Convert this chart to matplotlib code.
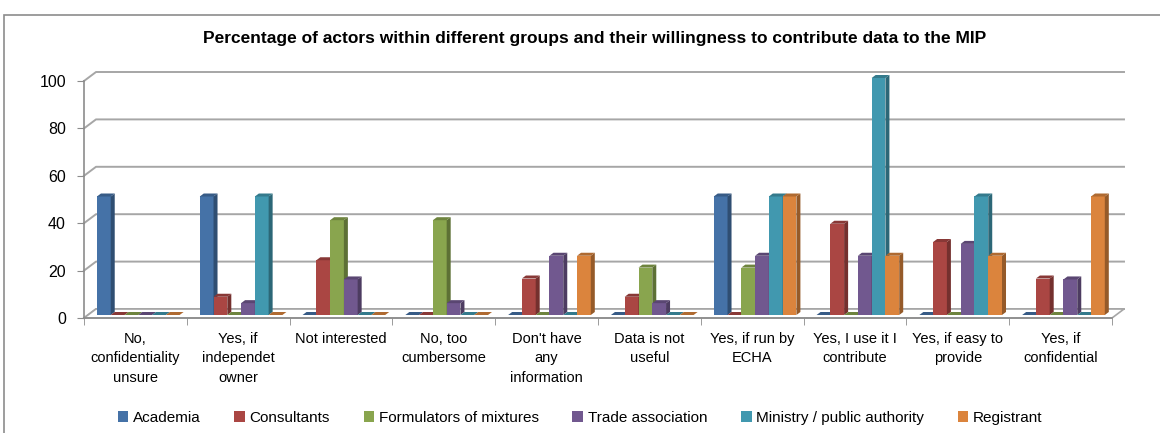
import numpy as np
import matplotlib
matplotlib.use('Agg')
import matplotlib.pyplot as plt
import matplotlib.transforms as mtransforms
from matplotlib.patches import Polygon, Rectangle
from matplotlib.colors import to_rgb

plt.rcParams['font.family'] = ['Liberation Sans', 'DejaVu Sans']

# Data (percent of actors in each group)
categories = ['No,\nconfidentiality\nunsure', 'Yes, if\nindependet\nowner', 'Not interested',
              'No, too\ncumbersome', "Don't have\nany\ninformation", 'Data is not\nuseful',
              'Yes, if run by\nECHA', 'Yes, I use it I\ncontribute', 'Yes, if easy to\nprovide',
              'Yes, if\nconfidential']
academia = [50, 50, 0, 0, 0, 0, 50, 0, 0, 0]
consultants = [0, 7.7, 23.1, 0, 15.4, 7.7, 0, 38.5, 30.8, 15.4]
formulators = [0, 0, 40, 40, 0, 20, 20, 0, 0, 0]
trade = [0, 5, 15, 5, 25, 5, 25, 25, 30, 15]
ministry = [0, 50, 0, 0, 0, 0, 50, 100, 50, 0]
registrant = [0, 0, 0, 0, 25, 0, 50, 25, 25, 50]
series_names = ['Academia', 'Consultants', 'Formulators of mixtures', 'Trade association',
                'Ministry / public authority', 'Registrant']
series = [academia, consultants, formulators, trade, ministry, registrant]
colors = ['#4572A7', '#AA4643', '#89A54E', '#71588F', '#4198AF', '#DB843D']
yticks = [0, 20, 40, 60, 80, 100]
title = 'Percentage of actors within different groups and their willingness to contribute data to the MIP'

W, H = 1160, 433
fig = plt.figure(figsize=(W / 100, H / 100), dpi=100)

# chart border (cut off at right and bottom)
fig.patches.append(Rectangle((4 / W, -0.1), 1.2, 1 - 15 / H + 0.1, transform=fig.transFigure,
                             fill=False, ec='#8c8c8c', lw=1.2))

ax = fig.add_axes([84 / W, (H - 318) / H, (1112 - 84) / W, (318 - 81) / H])
ax.set_xlim(-0.5, 9.5)
ax.set_ylim(0, 100)
xs = (1112 - 84) / 10.0   # px per x unit
ys = (318 - 81) / 100.0   # px per y unit

# back wall gridlines, floor and left wall edges
gdx, gdy = 12 / xs, 9 / ys
gray = '#a6a6a6'
for v in yticks:
    ax.plot([-0.5, -0.5 + gdx, 9.5 + gdx], [v, v + gdy, v + gdy], color=gray, lw=1.4,
            clip_on=False, zorder=1)
ax.add_patch(Polygon([(-0.5, 0), (9.5, 0), (9.5 + gdx, gdy), (-0.5 + gdx, gdy)],
                     closed=True, fc='white', ec=gray, lw=1.2, zorder=1.5, clip_on=False))

# 3d-looking bars
bar_tr = mtransforms.offset_copy(ax.transData, fig=fig, x=0, y=3, units='dots')
w = 0.134
ddx, ddy = 4 / xs, 3 / ys
x = np.arange(len(categories))
handles = []
for j, (vals, col) in enumerate(zip(series, colors)):
    base = np.array(to_rgb(col))
    side_col = base * 0.68
    top_col = base * 0.8
    bars = ax.bar(x - 0.374 + j * w, vals, width=w, align='edge', color=col,
                  transform=bar_tr, zorder=3 + j, clip_on=False)
    handles.append(bars)
    for r in bars:
        x0, h = r.get_x(), r.get_height()
        ax.add_patch(Polygon([(x0 + w, 0), (x0 + w + ddx, ddy), (x0 + w + ddx, h + ddy), (x0 + w, h)],
                             closed=True, fc=side_col, ec='none', transform=bar_tr,
                             zorder=3 + j, clip_on=False))
        ax.add_patch(Polygon([(x0, h), (x0 + ddx, h + ddy), (x0 + w + ddx, h + ddy), (x0 + w, h)],
                             closed=True, fc=top_col, ec='none', transform=bar_tr,
                             zorder=3 + j, clip_on=False))

for s in ['top', 'right']:
    ax.spines[s].set_visible(False)
for s in ['left', 'bottom']:
    ax.spines[s].set_color('#8c8c8c')
    ax.spines[s].set_linewidth(1.2)
    ax.spines[s].set_zorder(2)

ax.set_yticks(yticks)
ax.tick_params(axis='y', direction='out', length=5, color='#8c8c8c', labelsize=11.5, pad=8)
ax.set_xticks(x)
ax.set_xticklabels(categories, fontsize=10.5, linespacing=1.5)
ax.set_xticks(np.arange(-0.5, 10, 1), minor=True)
ax.tick_params(axis='x', which='major', length=0, pad=10)
ax.tick_params(axis='x', which='minor', length=5, color='#8c8c8c')

fig.text(595 / W, 1 - 38 / H, title, ha='center', va='center', fontsize=12.5, weight='bold')

fig.legend(handles, series_names, loc='center', bbox_to_anchor=(0.5, 1 - 418 / H), ncol=6,
           frameon=False, handlelength=0.7, handleheight=0.7, handletextpad=0.3,
           columnspacing=2.2, fontsize=11)

fig.savefig('out.png', dpi=100)
